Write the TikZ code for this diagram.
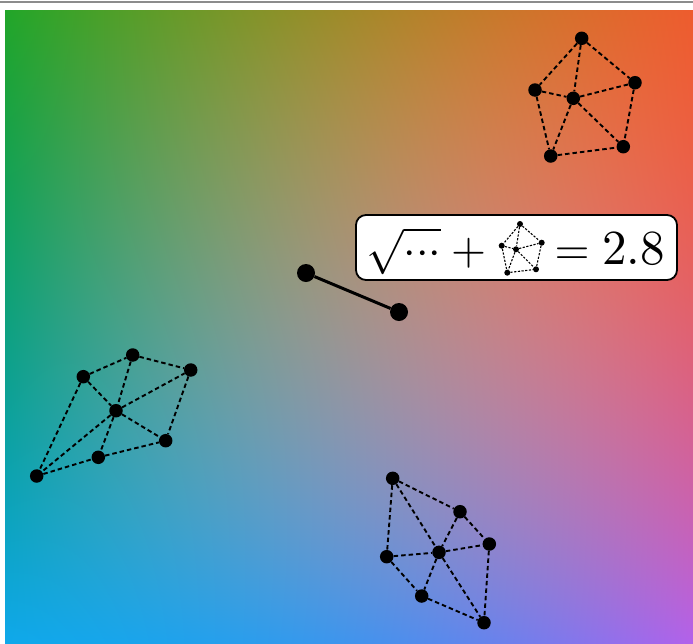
\documentclass[tikz,border=0pt]{standalone}
\usepackage{graphicx}
\usepackage{tikz}

% biquadratic colour interpolation: 9 samples per channel
% args: bottom row (left, mid, right), middle row, top row
\newcommand\mkch[9]{%
  \pgfmathsetmacro\qzz{#1}%
  \pgfmathsetmacro\qoz{-3*(#1)+4*(#2)-(#3)}%
  \pgfmathsetmacro\qtz{2*(#1)-4*(#2)+2*(#3)}%
  \pgfmathsetmacro\qzo{#4}%
  \pgfmathsetmacro\qoo{-3*(#4)+4*(#5)-(#6)}%
  \pgfmathsetmacro\qto{2*(#4)-4*(#5)+2*(#6)}%
  \pgfmathsetmacro\qzt{#7}%
  \pgfmathsetmacro\qot{-3*(#7)+4*(#8)-(#9)}%
  \pgfmathsetmacro\qtt{2*(#7)-4*(#8)+2*(#9)}%
  \pgfmathsetmacro\mzz{\qzz}%
  \pgfmathsetmacro\mzo{-3*(\qzz)+4*(\qzo)-(\qzt)}%
  \pgfmathsetmacro\mzt{2*(\qzz)-4*(\qzo)+2*(\qzt)}%
  \pgfmathsetmacro\moz{\qoz}%
  \pgfmathsetmacro\moo{-3*(\qoz)+4*(\qoo)-(\qot)}%
  \pgfmathsetmacro\mot{2*(\qoz)-4*(\qoo)+2*(\qot)}%
  \pgfmathsetmacro\mtz{\qtz}%
  \pgfmathsetmacro\mto{-3*(\qtz)+4*(\qto)-(\qtt)}%
  \pgfmathsetmacro\mtt{2*(\qtz)-4*(\qto)+2*(\qtt)}%
  \xdef\chcode{\ka\space index \mtt\space mul \mot\space add \kb\space index mul \mzt\space add
     \ka\space index mul
     \kb\space index \mto\space mul \moo\space add \kc\space index mul \mzo\space add add
     \ka\space index mul
     \kb\space index \mtz\space mul \moz\space add \kc\space index mul \mzz\space add add}%
}
\def\ka{1}\def\kb{2}\def\kc{3}
\mkch{0.06}{0.25}{0.70}{0.05}{0.62}{0.88}{0.13}{0.63}{0.93}\global\let\codeR\chcode
\def\ka{2}\def\kb{3}\def\kc{4}
\mkch{0.66}{0.58}{0.38}{0.63}{0.58}{0.38}{0.65}{0.54}{0.36}\global\let\codeG\chcode
\def\ka{3}\def\kb{4}\def\kc{5}
\mkch{0.92}{0.93}{0.92}{0.50}{0.56}{0.44}{0.16}{0.16}{0.18}\global\let\codeB\chcode

\pgfdeclarefunctionalshading{bgshade}{\pgfpointorigin}{\pgfpoint{100bp}{100bp}}{}{%
  25 sub 50 div exch 25 sub 50 div exch \codeR\space \codeG\space \codeB\space 5 -2 roll pop pop}

\tikzset{
  gdot/.style={circle, fill=black, inner sep=0pt, minimum size=13.5pt},
  sdot/.style={circle, fill=black, inner sep=0pt, minimum size=18pt},
  mdot/.style={circle, fill=black, inner sep=0pt, minimum size=6pt},
  gedge/.style={black, line width=1.9pt, dash pattern=on 4.5pt off 3pt},
  medge/.style={black, line width=1.1pt, dash pattern=on 2.2pt off 1.5pt},
  segline/.style={black, line width=3pt},
  labelbox/.style={draw=black, line width=1.8pt, fill=white, rounded corners=10pt,
    inner sep=0pt, minimum width=321pt, minimum height=65pt},
}

\begin{document}
\begin{tikzpicture}[x=1pt, y=-1pt]
  \useasboundingbox (0,0) rectangle (693,643);
  \fill[white] (0,0) rectangle (693,643);
  \draw[black!45, line width=1.5pt] (0,2) -- (693,2);
  \shade[shading=bgshade] (5,10) rectangle (693,643);

  % top-right graph
  \node[gdot] (pa) at (581.7,38.3) {};
  \node[gdot] (pb) at (635,82.7) {};
  \node[gdot] (pc) at (535,90) {};
  \node[gdot] (pd) at (573.3,98.3) {};
  \node[gdot] (pe) at (623.3,146.7) {};
  \node[gdot] (pf) at (550.7,156) {};
  \foreach \u/\v in {pa/pc, pa/pd, pa/pb, pc/pd, pd/pb, pc/pf, pd/pf, pd/pe, pb/pe, pf/pe}
    \draw[gedge] (\u) -- (\v);

  % left graph
  \node[gdot] (la) at (132.7,355) {};
  \node[gdot] (lb) at (190.7,370) {};
  \node[gdot] (lc) at (83.3,376.7) {};
  \node[gdot] (ld) at (116,410.7) {};
  \node[gdot] (le) at (165.7,440.7) {};
  \node[gdot] (lf) at (98.3,457.3) {};
  \node[gdot] (lg) at (36.7,476) {};
  \foreach \u/\v in {lc/la, la/lb, la/ld, lc/ld, ld/lb, lb/le, ld/le, lc/lg, ld/lg, ld/lf, lg/lf, lf/le}
    \draw[gedge] (\u) -- (\v);

  % bottom graph
  \node[gdot] (ba) at (392.7,478.3) {};
  \node[gdot] (bb) at (460,511.7) {};
  \node[gdot] (bc) at (489.3,544) {};
  \node[gdot] (bd) at (386.7,556.7) {};
  \node[gdot] (be) at (439,552.3) {};
  \node[gdot] (bf) at (421.7,596) {};
  \node[gdot] (bg) at (484,622.7) {};
  \foreach \u/\v in {ba/bb, ba/be, ba/bd, bb/be, bb/bc, be/bc, bd/be, bd/bf, be/bf, be/bg, bc/bg, bf/bg}
    \draw[gedge] (\u) -- (\v);

  % segment
  \node[sdot] (s1) at (306,273) {};
  \node[sdot] (s2) at (399,312) {};
  \draw[segline] (s1) -- (s2);

  % label
  \node[labelbox] (box) at (516.5,247.5) {};
  \node[anchor=base west, inner sep=0pt] (eq) at (366,264)
    {\scalebox{4.5}{$\sqrt{{\cdotp}{\cdotp}{\cdotp}}+\mathord{\hbox to 10.2pt{\hfil}}=\mskip\thickmuskip$}\scalebox{4.9}{$2.8$}};

  % mini graph inside label
  \node[mdot] (ma) at (520,224) {};
  \node[mdot] (mb) at (541.7,242.7) {};
  \node[mdot] (mc) at (501.7,245.7) {};
  \node[mdot] (md) at (516,249.3) {};
  \node[mdot] (me) at (536,269.3) {};
  \node[mdot] (mf) at (507.3,272.7) {};
  \foreach \u/\v in {ma/mc, ma/md, ma/mb, mc/md, md/mb, mc/mf, md/mf, md/me, mb/me, mf/me}
    \draw[medge] (\u) -- (\v);
\end{tikzpicture}
\end{document}
